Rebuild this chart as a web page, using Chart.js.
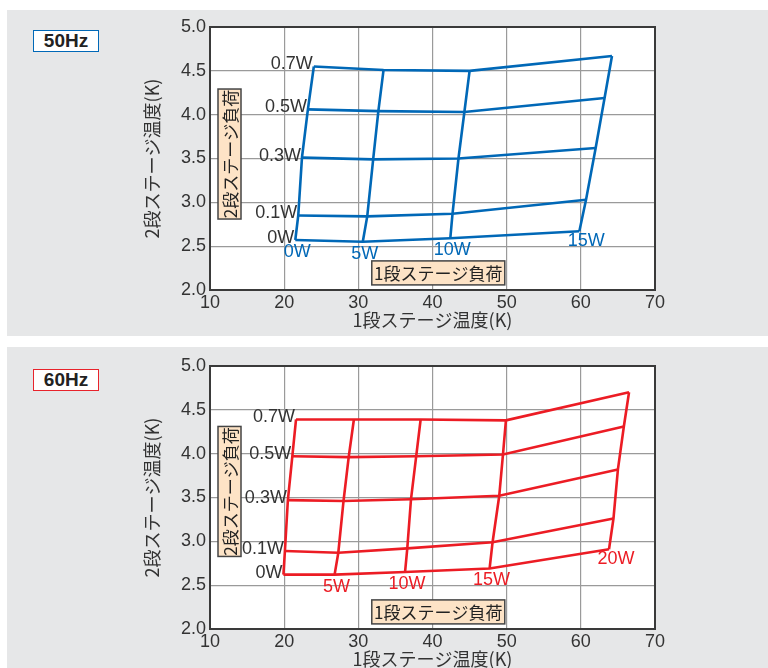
<!DOCTYPE html>
<html>
<head>
<meta charset="utf-8">
<script src="https://cdn.jsdelivr.net/npm/chart.js@4.4.1/dist/chart.umd.min.js"></script>
<style>
  html, body { margin: 0; padding: 0; background: #fff; overflow: hidden; }
  body { width: 768px; height: 668px; position: relative; }
  .panel { position: absolute; left: 7px; width: 761px; background: #e6e7e8; }
  .hz {
    position: absolute; left: 33px; width: 64px; height: 20px;
    background: #fff; font: bold 19px "Liberation Sans", Arial, sans-serif;
    color: #222; text-align: center; line-height: 20px;
  }
  canvas { position: absolute; left: 7px; }
</style>
</head>
<body>
<div class="panel" style="top:10px;height:326px"></div>
<div class="panel" style="top:347px;height:321px"></div>
<div class="hz" style="top:30px;border:1.5px solid #0068b7">50Hz</div>
<div class="hz" style="top:369px;border:1.5px solid #e8232b">60Hz</div>
<canvas id="chart50" width="761" height="327" style="top:10px"></canvas>
<canvas id="chart60" width="761" height="327" style="top:349px"></canvas>
<script>
// 2nd stage load (rows) and 1st stage load (columns)
const stage2Loads = ["0W", "0.1W", "0.3W", "0.5W", "0.7W"];
const stage1Loads50 = ["0W", "5W", "10W", "15W"];
const stage1Loads60 = ["0W", "5W", "10W", "15W", "20W"];

// 50Hz: 1st stage temperature (K)
const t1_50 = [
  [21.5, 30.6, 42.4, 59.8],
  [21.9, 31.2, 42.7, 60.7],
  [22.4, 32.0, 43.5, 62.0],
  [23.2, 32.7, 44.3, 63.2],
  [24.0, 33.4, 45.0, 64.2],
];
// 50Hz: 2nd stage temperature (K)
const t2_50 = [
  [2.57, 2.55, 2.59, 2.67],
  [2.85, 2.84, 2.87, 3.03],
  [3.51, 3.49, 3.50, 3.62],
  [4.06, 4.04, 4.03, 4.19],
  [4.55, 4.51, 4.50, 4.67],
];

// 60Hz: 1st stage temperature (K)
const t1_60 = [
  [19.9, 26.8, 36.3, 47.7, 63.8],
  [20.1, 27.3, 36.6, 48.1, 64.4],
  [20.5, 28.0, 37.1, 49.0, 65.0],
  [21.1, 28.7, 37.8, 49.5, 65.8],
  [21.6, 29.4, 38.4, 49.9, 66.5],
];
// 60Hz: 2nd stage temperature (K)
const t2_60 = [
  [2.62, 2.62, 2.65, 2.69, 2.91],
  [2.89, 2.87, 2.92, 2.99, 3.26],
  [3.47, 3.46, 3.48, 3.52, 3.82],
  [3.97, 3.96, 3.97, 3.99, 4.31],
  [4.39, 4.39, 4.39, 4.38, 4.70],
];

const xTicks = [10, 20, 30, 40, 50, 60, 70];
const yTicks = [2.0, 2.5, 3.0, 3.5, 4.0, 4.5, 5.0];

const TEXT = "#333";
const NUM_FONT = '"Liberation Sans", Arial, sans-serif';
const JP_FONT = '"Noto Sans CJK JP", "Noto Sans", sans-serif';

// draws plot frame, W labels and the two peach boxes
const decorPlugin = {
  id: "decor",
  beforeDraw(chart) {
    const a = chart.chartArea;
    const ctx = chart.ctx;
    ctx.save();
    ctx.fillStyle = "#fff";
    ctx.fillRect(a.left, a.top, a.right - a.left, a.bottom - a.top);
    ctx.restore();
  },
  afterDatasetsDraw(chart) {
    const o = chart.options.plugins.decor;
    const a = chart.chartArea;
    const xs = chart.scales.x, ys = chart.scales.y;
    const ctx = chart.ctx;
    ctx.save();

    // frame
    ctx.strokeStyle = "#3a3a3a";
    ctx.lineWidth = 2;
    ctx.strokeRect(a.left, a.top, a.right - a.left, a.bottom - a.top);

    // 2nd stage load labels, left of first column
    ctx.font = "18px " + NUM_FONT;
    ctx.fillStyle = TEXT;
    ctx.textAlign = "right";
    ctx.textBaseline = "middle";
    o.rowLabels.forEach((lab, i) => {
      const px = xs.getPixelForValue(o.t1[i][0]);
      const py = ys.getPixelForValue(o.t2[i][0]);
      ctx.fillText(lab, px - 1, py - 2);
    });

    // 1st stage load labels, under the 0W row
    ctx.fillStyle = o.color;
    ctx.textAlign = "center";
    const last = o.colLabels.length - 1;
    o.colLabels.forEach((lab, j) => {
      if (o.skipFirstCol && j === 0) return;
      const px = xs.getPixelForValue(o.t1[0][j]);
      const py = ys.getPixelForValue(o.t2[0][j]);
      if (j === last) ctx.fillText(lab, px + 7, py + 10);
      else ctx.fillText(lab, px + 2, py + 12);
    });

    // boxes
    const box = (cx, cy, w, h, text, vertical) => {
      ctx.save();
      ctx.translate(cx, cy);
      if (vertical) ctx.rotate(-Math.PI / 2);
      const bw = vertical ? h : w, bh = vertical ? w : h;
      ctx.fillStyle = "#fde3c6";
      ctx.fillRect(-bw / 2, -bh / 2, bw, bh);
      ctx.strokeStyle = "#444";
      ctx.lineWidth = 1.5;
      ctx.strokeRect(-bw / 2, -bh / 2, bw, bh);
      ctx.fillStyle = "#222";
      ctx.font = "17px " + JP_FONT;
      ctx.textAlign = "center";
      ctx.textBaseline = "middle";
      ctx.fillText(text, 0, 1);
      ctx.restore();
    };
    const W = a.right - a.left, H = a.bottom - a.top;
    box(a.left + W * 0.513, a.top + H * 0.935, 133, 24, "1段ステージ負荷", false);
    box(a.left + 19.5, a.top + H * o.vBoxY, 23, 130, "2段ステージ負荷", true);

    ctx.restore();
  }
};

function makeChart(id, t1, t2, colLabels, color, vBoxY, skipFirstCol) {
  const datasets = [];
  // constant 2nd stage load lines
  t1.forEach((row, i) => {
    datasets.push({
      data: row.map((x, j) => ({ x: x, y: t2[i][j] })),
    });
  });
  // constant 1st stage load lines
  colLabels.forEach((lab, j) => {
    datasets.push({
      data: t1.map((row, i) => ({ x: row[j], y: t2[i][j] })),
    });
  });
  datasets.forEach(d => {
    d.showLine = true;
    d.borderColor = color;
    d.borderWidth = 2.6;
    d.pointRadius = 0;
    d.tension = 0;
  });

  return new Chart(document.getElementById(id), {
    type: "scatter",
    data: { datasets: datasets },
    options: {
      responsive: false,
      animation: false,
      devicePixelRatio: 1,
      layout: { padding: { left: 133, right: 113, top: 17, bottom: 0 } },
      plugins: {
        legend: { display: false },
        tooltip: { enabled: false },
        decor: {
          t1: t1, t2: t2, color: color,
          rowLabels: stage2Loads, colLabels: colLabels,
          vBoxY: vBoxY, skipFirstCol: skipFirstCol
        }
      },
      scales: {
        x: {
          type: "linear", min: 10, max: 70,
          afterBuildTicks: s => { s.ticks = xTicks.map(v => ({ value: v })); },
          afterFit: s => { s.height = 47; },
          grid: { color: "#9a9a9a", lineWidth: 1.2, drawTicks: false },
          border: { display: false },
          ticks: { padding: 2, color: TEXT, font: { family: NUM_FONT, size: 18 }, maxRotation: 0 },
          title: {
            display: true, text: "1段ステージ温度(K)", color: TEXT,
            font: { family: JP_FONT, size: 18 }, padding: { top: 0, bottom: 6 }
          }
        },
        y: {
          type: "linear", min: 2, max: 5,
          afterBuildTicks: s => { s.ticks = yTicks.map(v => ({ value: v })); },
          afterFit: s => { s.width = 70; },
          grid: { color: "#9a9a9a", lineWidth: 1.2, drawTicks: false },
          border: { display: false },
          ticks: {
            padding: 4, color: TEXT, font: { family: NUM_FONT, size: 18 },
            callback: v => v.toFixed(1)
          },
          title: {
            display: true, text: "2段ステージ温度(K)", color: TEXT,
            font: { family: JP_FONT, size: 18 }, padding: { top: 1, bottom: 0 }
          }
        }
      }
    },
    plugins: [decorPlugin]
  });
}

makeChart("chart50", t1_50, t2_50, stage1Loads50, "#0068b7", 0.483, false);
makeChart("chart60", t1_60, t2_60, stage1Loads60, "#ec1c24", 0.477, true);
</script>
</body>
</html>
